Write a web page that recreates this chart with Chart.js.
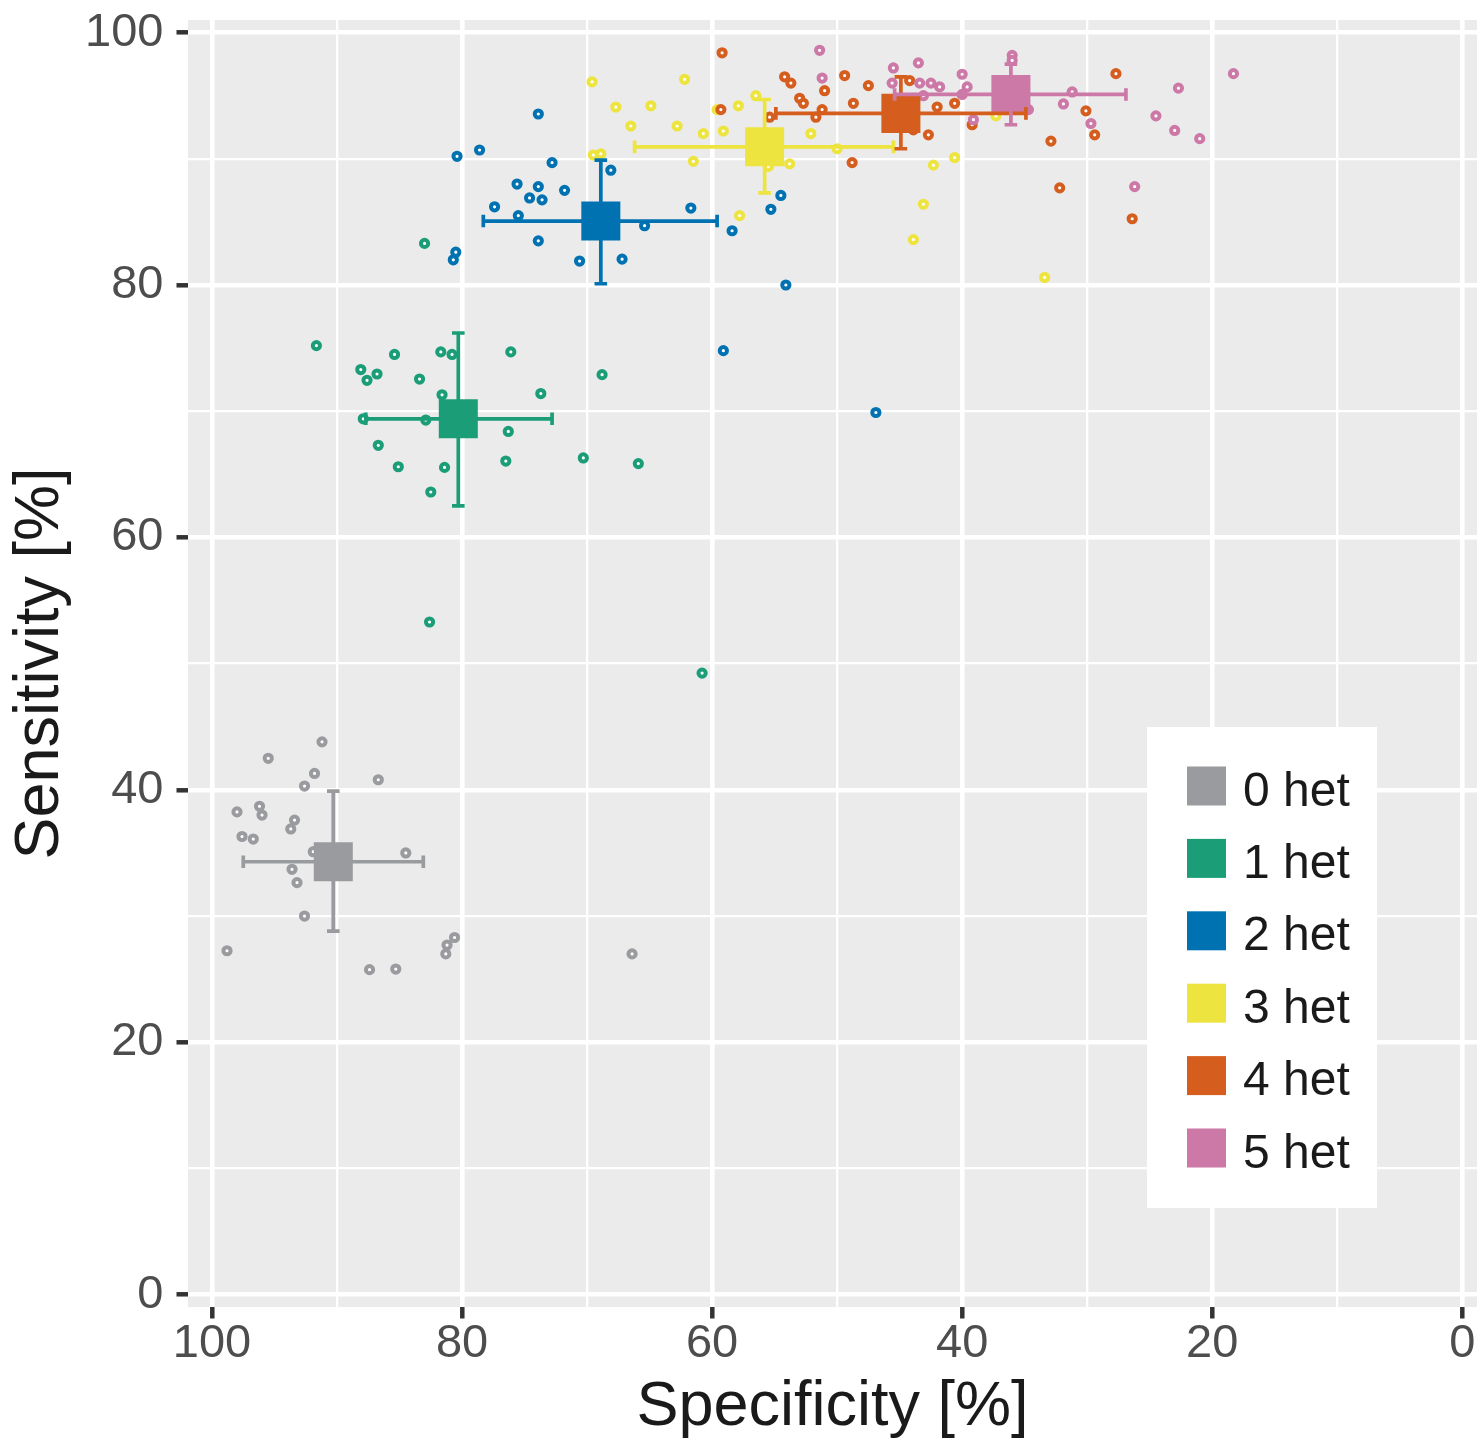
<!DOCTYPE html>
<html>
<head>
<meta charset="utf-8">
<title>Sensitivity vs specificity by number of het</title>
<script src="https://cdn.jsdelivr.net/npm/chart.js@4.4.1/dist/chart.umd.min.js"></script>
<style>
  html, body { margin: 0; padding: 0; background: #ffffff; }
  #wrap { width: 1477px; height: 1445px; }
</style>
</head>
<body>
<div id="wrap"><canvas id="chart" width="1477" height="1445"></canvas></div>
<script>
// Groups and colours (Okabe-Ito style)
const groups = ["0 het", "1 het", "2 het", "3 het", "4 het", "5 het"];
const colors = ["#9A9B9E", "#1B9E77", "#0072B2", "#EEE43F", "#D55E1F", "#CC79A7"];

// Individual points: specificity [%] / sensitivity [%]
const het0Spec = [91.2, 95.5, 91.8, 86.7, 92.6, 98.0, 96.2, 96.0, 93.4, 93.7, 97.6, 96.7, 91.9, 84.5, 93.6, 93.2, 92.6, 98.8, 80.6, 81.2, 81.3, 87.4, 85.3, 66.4];
const het0Sens = [43.8, 42.5, 41.3, 40.8, 40.3, 38.25, 38.7, 38.0, 37.6, 36.9, 36.3, 36.1, 35.1, 35.0, 33.7, 32.65, 30.0, 27.25, 28.3, 27.7, 27.0, 25.75, 25.8, 27.0];

const het1Spec = [91.65, 85.4, 81.7, 80.8, 76.1, 88.1, 86.8, 87.6, 83.4, 68.8, 81.6, 73.7, 87.9, 82.9, 76.3, 86.7, 85.1, 81.4, 76.5, 70.3, 65.9, 82.5, 82.6, 60.8, 83.0];
const het1Sens = [75.2, 74.5, 74.7, 74.5, 74.7, 73.3, 72.95, 72.45, 72.55, 72.9, 71.3, 71.4, 69.4, 69.3, 68.4, 67.3, 65.6, 65.55, 66.05, 66.3, 65.85, 63.6, 53.3, 49.25, 83.3];

const het2Spec = [73.9, 80.4, 78.6, 72.8, 75.6, 73.9, 71.8, 74.6, 73.6, 77.4, 75.5, 73.9, 80.5, 80.7, 70.6, 68.1, 67.2, 61.7, 65.4, 58.4, 54.5, 55.3, 54.1, 59.1, 46.9];
const het2Sens = [93.55, 90.2, 90.7, 89.7, 88.0, 87.8, 87.5, 86.9, 86.75, 86.2, 85.5, 83.5, 82.6, 82.0, 81.9, 89.1, 82.05, 86.1, 84.7, 84.3, 87.1, 86.0, 80.0, 74.8, 69.9];

const het3Spec = [69.6, 67.7, 66.5, 69.5, 68.9, 64.9, 62.2, 62.8, 60.7, 61.5, 59.6, 57.9, 59.1, 56.5, 57.8, 55.5, 53.8, 52.1, 50.0, 42.3, 40.6, 43.1, 43.9, 37.3, 33.4];
const het3Sens = [96.1, 94.1, 92.6, 90.3, 90.4, 94.2, 96.3, 92.6, 92.0, 89.8, 93.9, 94.2, 92.2, 95.0, 85.5, 89.4, 89.6, 92.0, 90.8, 89.5, 90.1, 86.4, 83.6, 93.4, 80.6];

const het4Spec = [59.2, 59.3, 54.2, 53.7, 53.0, 52.7, 51.0, 51.2, 51.7, 55.4, 49.4, 48.7, 47.5, 48.8, 44.2, 42.0, 40.6, 42.7, 43.9, 39.2, 27.7, 30.1, 29.4, 32.9, 32.2, 26.4];
const het4Sens = [98.4, 93.9, 96.5, 96.0, 94.8, 94.4, 95.4, 93.9, 93.3, 93.3, 96.6, 94.4, 95.8, 89.7, 96.2, 94.1, 94.4, 91.9, 92.3, 92.7, 96.75, 93.8, 91.9, 91.4, 87.7, 85.25];

const het5Spec = [51.4, 51.2, 45.5, 43.5, 45.6, 43.4, 42.5, 41.8, 43.1, 40.0, 39.6, 40.0, 39.1, 36.0, 36.0, 31.2, 31.9, 29.7, 34.7, 35.7, 18.3, 22.7, 24.5, 23.0, 21.0, 26.2];
const het5Sens = [98.6, 96.4, 97.2, 97.6, 96.0, 96.0, 96.0, 95.7, 95.0, 96.7, 95.7, 95.1, 93.1, 98.2, 97.8, 95.3, 94.35, 92.8, 93.9, 93.9, 96.75, 95.6, 93.4, 92.25, 91.6, 87.8];

// Group means with error-bar limits
const meanSpec = [90.3, 80.3, 68.9, 55.8, 44.9, 36.1];
const meanSens = [34.3, 69.4, 85.07, 90.95, 93.6, 95.1];
const specLow = [97.5, 87.7, 78.3, 66.2, 54.9, 45.4];
const specHigh = [83.1, 72.8, 59.6, 45.5, 34.9, 26.9];
const sensLow = [28.8, 62.5, 80.1, 87.3, 90.8, 92.7];
const sensHigh = [39.9, 76.2, 89.9, 94.7, 96.5, 97.5];

// Axis ticks (labels on every other one)
const xTicks = [0, 10, 20, 30, 40, 50, 60, 70, 80, 90, 100];
const yTicks = [0, 10, 20, 30, 40, 50, 60, 70, 80, 90, 100];

const specByGroup = [het0Spec, het1Spec, het2Spec, het3Spec, het4Spec, het5Spec];
const sensByGroup = [het0Sens, het1Sens, het2Sens, het3Sens, het4Sens, het5Sens];

const FONT = "'Liberation Sans', Arial, Helvetica, sans-serif";
const isMajor = (v) => v % 20 === 0;

const pointSets = groups.map((g, i) => ({
  label: g,
  data: specByGroup[i].map((x, k) => ({ x: x, y: sensByGroup[i][k] })),
  borderColor: colors[i],
  backgroundColor: "#ffffff",
  pointRadius: 3.6,
  pointBorderWidth: 4,
  pointStyle: "circle",
  order: 20 - i,
}));

const meanSets = groups.map((g, i) => ({
  label: g + " mean",
  data: [{ x: meanSpec[i], y: meanSens[i] }],
  backgroundColor: colors[i],
  borderColor: colors[i],
  borderWidth: 0,
  pointStyle: "rect",
  pointRadius: 27.6,
  pointBorderWidth: 0,
  order: 10 - i,
}));

// grey panel behind the grid
const panelBg = {
  id: "panelBg",
  beforeDraw(chart) {
    const { ctx, chartArea: a } = chart;
    ctx.save();
    ctx.fillStyle = "#ffffff";
    ctx.fillRect(0, 0, chart.width, chart.height);
    ctx.fillStyle = "#EBEBEB";
    ctx.fillRect(a.left, a.top, a.right - a.left, a.bottom - a.top);
    ctx.restore();
  },
};

// horizontal + vertical error bars with caps
const errorBars = {
  id: "errorBars",
  afterDatasetsDraw(chart) {
    const { ctx, scales } = chart;
    const xs = scales.x;
    const ys = scales.y;
    const cap = 6.3;
    ctx.save();
    ctx.lineWidth = 3.7;
    groups.forEach((g, i) => {
      const cx = xs.getPixelForValue(meanSpec[i]);
      const cy = ys.getPixelForValue(meanSens[i]);
      const x1 = xs.getPixelForValue(specLow[i]);
      const x2 = xs.getPixelForValue(specHigh[i]);
      const y1 = ys.getPixelForValue(sensLow[i]);
      const y2 = ys.getPixelForValue(sensHigh[i]);
      ctx.strokeStyle = colors[i];
      ctx.beginPath();
      ctx.moveTo(x1, cy);
      ctx.lineTo(x2, cy);
      ctx.moveTo(x1, cy - cap);
      ctx.lineTo(x1, cy + cap);
      ctx.moveTo(x2, cy - cap);
      ctx.lineTo(x2, cy + cap);
      ctx.moveTo(cx, y1);
      ctx.lineTo(cx, y2);
      ctx.moveTo(cx - cap, y1);
      ctx.lineTo(cx + cap, y1);
      ctx.moveTo(cx - cap, y2);
      ctx.lineTo(cx + cap, y2);
      ctx.stroke();
    });
    ctx.restore();
  },
};

// legend box inside the panel, bottom right
const insideLegend = {
  id: "insideLegend",
  afterDraw(chart) {
    const { ctx, chartArea: a } = chart;
    const left = a.right - 330;
    const top = a.bottom - 580;
    ctx.save();
    ctx.fillStyle = "#ffffff";
    ctx.fillRect(left, top, 230, 481);
    ctx.font = "48px " + FONT;
    ctx.textBaseline = "alphabetic";
    ctx.textAlign = "left";
    groups.forEach((g, i) => {
      const cy = top + 59 + i * 72.4;
      ctx.fillStyle = colors[i];
      ctx.fillRect(left + 40, cy - 19.5, 39, 39);
      ctx.fillStyle = "#1a1a1a";
      ctx.fillText(g, left + 96, cy + 19.5);
    });
    ctx.restore();
  },
};

const gridOpts = {
  color: "#ffffff",
  lineWidth: (c) => (c.tick && isMajor(c.tick.value) ? 4.6 : 2.3),
  tickColor: (c) => (c.tick && isMajor(c.tick.value) ? "#333333" : "rgba(0,0,0,0)"),
  tickWidth: 4.5,
  tickLength: 11.5,
  drawTicks: true,
};

new Chart(document.getElementById("chart"), {
  type: "scatter",
  data: { datasets: pointSets.concat(meanSets) },
  options: {
    responsive: false,
    animation: false,
    events: [],
    layout: { autoPadding: false, padding: { top: 20, right: 0, bottom: 0, left: 0 } },
    plugins: {
      legend: { display: false },
      tooltip: { enabled: false },
    },
    scales: {
      x: {
        type: "linear",
        reverse: true,
        min: -1.18,
        max: 101.92,
        afterBuildTicks: (axis) => {
          axis.ticks = xTicks.map((v) => ({ value: v }));
        },
        afterFit: (scale) => {
          scale.height = 138;
          scale.paddingLeft = 0;
          scale.paddingRight = 0;
        },
        border: { display: false },
        grid: gridOpts,
        ticks: {
          autoSkip: false,
          maxRotation: 0,
          padding: 0,
          color: "#4D4D4D",
          font: { family: FONT, size: 47, lineHeight: 1.1 },
          callback: (v) => (isMajor(v) ? String(v) : ""),
        },
        title: {
          display: true,
          text: "Specificity [%]",
          color: "#1a1a1a",
          font: { family: FONT, size: 63 },
          padding: { top: 0, bottom: 0 },
        },
      },
      y: {
        type: "linear",
        min: -0.98,
        max: 101.0,
        afterBuildTicks: (axis) => {
          axis.ticks = yTicks.map((v) => ({ value: v }));
        },
        afterFit: (scale) => {
          scale.width = 188;
          scale.paddingTop = 0;
          scale.paddingBottom = 0;
        },
        border: { display: false },
        grid: gridOpts,
        ticks: {
          autoSkip: false,
          padding: 13,
          color: "#4D4D4D",
          font: { family: FONT, size: 47, lineHeight: 1.1 },
          callback: (v) => (isMajor(v) ? String(v) : ""),
        },
        title: {
          display: true,
          text: "Sensitivity [%]",
          color: "#1a1a1a",
          font: { family: FONT, size: 63 },
          padding: { top: 3, bottom: 0 },
        },
      },
    },
  },
  plugins: [panelBg, errorBars, insideLegend],
});
</script>
</body>
</html>
